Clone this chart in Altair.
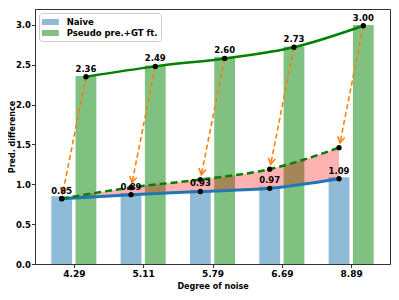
import json
import math
import altair as alt
import pandas as pd

# ---------------- data ----------------
noise_labels = ["4.29", "5.11", "5.79", "6.69", "8.89"]
series_names = ["Naive", "Pseudo pre.+GT ft."]
naive_vals = [0.85, 0.89, 0.93, 0.97, 1.09]
pseudo_vals = [2.36, 2.49, 2.60, 2.73, 3.00]
naive_curve = [0.82, 0.87, 0.91, 0.95, 1.07]
pseudo_curve = [2.35, 2.48, 2.58, 2.72, 2.99]
shifted_curve = [0.82, 0.96, 1.06, 1.19, 1.46]

# ---------------- layout / style ----------------
W, H = 355, 255
XMIN, XMAX = -0.56, 4.56
YMAX = 3.2
OFF, BW = 0.175, 0.3
FONT = "DejaVu Sans"
NAIVE_COL = "#8fbbd9"
PSEUDO_COL = "#80c080"
ORANGE = "#ff7f0e"
BLUE = "#1f77b4"
GREEN = "#008000"

idx = list(range(len(noise_labels)))
df = pd.DataFrame({
    "idx": idx,
    "noise": noise_labels,
    "naive": naive_vals,
    "pseudo": pseudo_vals,
    "naive_curve": naive_curve,
    "pseudo_curve": pseudo_curve,
    "shifted": shifted_curve,
})
df["xn"] = df["idx"] - OFF
df["xp"] = df["idx"] + OFF
df["naive_lbl"] = [f"{v:.2f}" for v in naive_vals]
df["pseudo_lbl"] = [f"{v:.2f}" for v in pseudo_vals]

bars = pd.concat([
    pd.DataFrame({"series": series_names[0], "x0": df["xn"] - BW / 2,
                  "x1": df["xn"] + BW / 2, "val": naive_vals}),
    pd.DataFrame({"series": series_names[1], "x0": df["xp"] - BW / 2,
                  "x1": df["xp"] + BW / 2, "val": pseudo_vals}),
], ignore_index=True)

# arrows from pseudo points to the shifted points
pxx = W / (XMAX - XMIN)
pxy = H / YMAX
SHRINK = 5.0
rows = []
for i in idx:
    xs, ys = df["xp"][i], pseudo_curve[i]
    xe, ye = df["xn"][i], shifted_curve[i]
    dx = (xe - xs) * pxx
    dy = -(ye - ys) * pxy
    L = math.hypot(dx, dy)
    ux, uy = dx / L, dy / L
    xt = xe - SHRINK * ux / pxx
    yt = ye + SHRINK * uy / pxy
    ang = math.degrees(math.atan2(dy, dx)) % 360
    rows.append({"xs": xs, "ys": ys, "xt": xt, "yt": yt, "ang": ang})
arrows = pd.DataFrame(rows)

xscale = alt.Scale(domain=[XMIN, XMAX], nice=False, zero=False)
yscale = alt.Scale(domain=[0, YMAX], nice=False, zero=True)
label_arr = json.dumps(noise_labels)
xaxis = alt.Axis(values=idx, labelExpr=f"{label_arr}[datum.value]", title="Degree of noise",
                 grid=False, tickSize=3.5, labelPadding=2, titlePadding=4,
                 labelFontSize=9, titleFontSize=8)
yaxis = alt.Axis(values=[0, 0.5, 1.0, 1.5, 2.0, 2.5, 3.0], format=".1f", title="Pred. difference",
                 grid=False, tickSize=3.5, labelPadding=1, labelFontSize=8.5, titleFontSize=8,
                 titleX=-27, titleY=H / 2, titleBaseline="top", titleAngle=270, titleAlign="center")


def X(field):
    return alt.X(field, type="quantitative", scale=xscale, axis=xaxis, title="Degree of noise")


def Y(field):
    return alt.Y(field, type="quantitative", scale=yscale, axis=yaxis, title="Pred. difference")


legend = alt.Legend(
    title=None, orient="top-left", offset=4, fillColor="white", strokeColor="#cccccc",
    cornerRadius=3, padding=3, rowPadding=0,
    symbolType="M-1,-0.5H1.8V0.5H-1Z", symbolSize=144, symbolStrokeWidth=0, symbolOpacity=1,
    labelOffset=12.7, labelFontSize=8.5, labelFontWeight="bold", labelFont=FONT,
)

bar_layer = alt.Chart(bars).mark_rect().encode(
    x=X("x0"), x2="x1", y=Y("val"), y2=alt.datum(0),
    color=alt.Color("series:N", scale=alt.Scale(domain=series_names, range=[NAIVE_COL, PSEUDO_COL]),
                    legend=legend),
)

base = alt.Chart(df)

fill_layer = base.mark_area(color="red", opacity=0.3, interpolate="monotone").encode(
    x=X("xn"), y=Y("naive_curve"), y2="shifted")

blue_line = base.mark_line(color=BLUE, strokeWidth=3, interpolate="monotone").encode(
    x=X("xn"), y=Y("naive_curve"))

green_line = base.mark_line(color=GREEN, strokeWidth=2.5, interpolate="monotone").encode(
    x=X("xp"), y=Y("pseudo_curve"))

dashed_line = base.mark_line(color=GREEN, strokeWidth=2.5, strokeDash=[7, 4],
                             interpolate="monotone").encode(x=X("xn"), y=Y("shifted"))

arrow_lines = alt.Chart(arrows).mark_rule(color=ORANGE, strokeWidth=1.6, strokeDash=[5, 3]).encode(
    x=X("xs"), y=Y("ys"), x2="xt", y2="yt")

arrow_heads = alt.Chart(arrows).mark_point(
    shape="M-1,-0.6L0,0L-1,0.6", filled=False, color=ORANGE, strokeWidth=1.6, size=144, opacity=1
).encode(x=X("xt"), y=Y("yt"), angle=alt.Angle("ang:Q", scale=None))

dots_naive = base.mark_circle(color="black", size=28, opacity=1).encode(x=X("xn"), y=Y("naive_curve"))
dots_shift = base.mark_circle(color="black", size=28, opacity=1).encode(x=X("xn"), y=Y("shifted"))
dots_pseudo = base.mark_circle(color="black", size=28, opacity=1).encode(x=X("xp"), y=Y("pseudo_curve"))

txt_naive = base.mark_text(font=FONT, fontWeight="bold", fontSize=8.5, baseline="bottom", dy=-3,
                           color="black").encode(x=X("xn"), y=Y("naive_curve"), text="naive_lbl")
txt_pseudo = base.mark_text(font=FONT, fontWeight="bold", fontSize=8.5, baseline="bottom", dy=-3,
                            color="black").encode(x=X("xp"), y=Y("pseudo_curve"), text="pseudo_lbl")

chart = alt.layer(
    bar_layer, fill_layer, blue_line, green_line, dashed_line,
    arrow_lines, arrow_heads, dots_naive, dots_shift, dots_pseudo, txt_naive, txt_pseudo,
).properties(
    width=W, height=H,
    padding={"left": 27, "top": 1, "right": 1, "bottom": 28},
    autosize=alt.AutoSizeParams(type="none"),
).configure(
    font=FONT,
).configure_view(
    stroke="#333333", strokeWidth=1,
).configure_axis(
    labelFont=FONT, titleFont=FONT, labelFontWeight="bold", titleFontWeight="bold",
    labelColor="black", titleColor="black", domainColor="#333333", tickColor="#333333",
)

chart.save("out.html", embed_options={"renderer": "svg", "actions": False})
